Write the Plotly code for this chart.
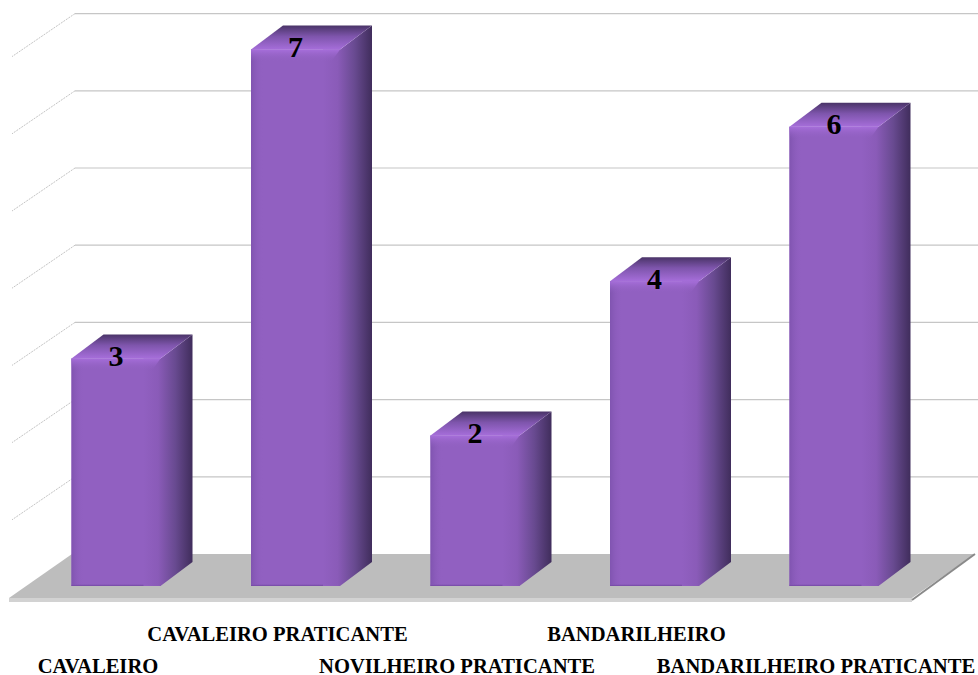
import plotly.graph_objects as go

categories = ["CAVALEIRO", "CAVALEIRO PRATICANTE", "NOVILHEIRO PRATICANTE", "BANDARILHEIRO", "BANDARILHEIRO PRATICANTE"]
values = [3, 7, 2, 4, 6]
grid_values = [0, 1, 2, 3, 4, 5, 6, 7]

# scale helpers (pixels of the 978x675 canvas per data unit)
PX_X, PX_Y = 179.5, 77.2
X0_PX, Y0_PX = 116, 590
PLOT_H = 615
x_range = [-X0_PX / PX_X, (978 - X0_PX) / PX_X]
y_range = [(Y0_PX - PLOT_H) / PX_Y, Y0_PX / PX_Y]

# 3D look, in data units
BAR_W = 89 / PX_X
BAR_BASE = 4 / PX_Y
DX, DY = 32 / PX_X, 24 / PX_Y
WALL_DX, WALL_DY = 63 / PX_X, 43 / PX_Y
WALL_Y0 = 36 / PX_Y
TICK_SHIFT = -18 / PX_X
SHADE = 17 / PX_X
BEVEL = 12 / PX_Y

FRONT = "#9160C1"
x_idx = list(range(len(values)))
fig = go.Figure()

# front faces
fig.add_trace(go.Bar(x=x_idx, y=[v - BAR_BASE for v in values], base=BAR_BASE, width=BAR_W,
                     marker=dict(color=FRONT, line=dict(width=0)), hoverinfo="skip"))

for i, v in zip(x_idx, values):
    l, r = i - BAR_W / 2, i + BAR_W / 2
    # left edge shading
    fig.add_trace(go.Scatter(x=[l, l + 0.07, l + 0.07, l, l], y=[BAR_BASE, BAR_BASE, v, v, BAR_BASE],
                             mode="none", fill="toself", hoverinfo="skip",
                             fillgradient=dict(type="horizontal",
                                               colorscale=[[0, "rgba(128,84,176,1)"], [1, "rgba(145,96,193,0)"]])))
    # bottom edge
    fig.add_trace(go.Scatter(x=[l, r, r, l, l], y=[BAR_BASE, BAR_BASE, BAR_BASE + 0.035, BAR_BASE + 0.035, BAR_BASE],
                             mode="none", fill="toself", hoverinfo="skip",
                             fillgradient=dict(type="vertical",
                                               colorscale=[[0, "rgba(112,70,160,1)"], [1, "rgba(145,96,193,0)"]])))
    # side face
    fig.add_trace(go.Scatter(x=[r - SHADE, r, r + DX, r + DX, r, r - SHADE, r - SHADE],
                             y=[v, v, v + DY, BAR_BASE + DY, BAR_BASE, BAR_BASE, v],
                             mode="none", fill="toself", hoverinfo="skip",
                             fillgradient=dict(type="horizontal",
                                               colorscale=[[0, "#9160C1"], [0.3, "#8A5BB8"], [0.65, "#684A90"], [1, "#402D5C"]])))
    # top bevel on the front
    fig.add_trace(go.Scatter(x=[l, r, r - SHADE / 2, l, l], y=[v, v, v - BEVEL, v - BEVEL, v],
                             mode="none", fill="toself", hoverinfo="skip",
                             fillgradient=dict(type="vertical",
                                               colorscale=[[0, "rgba(145,96,193,0)"], [1, "rgba(166,110,218,1)"]])))
    # top face
    fig.add_trace(go.Scatter(x=[l, l + DX, r + DX, r, l], y=[v, v + DY, v + DY, v, v],
                             mode="none", fill="toself", hoverinfo="skip",
                             fillgradient=dict(type="vertical",
                                               colorscale=[[0, "#A66EDA"], [0.55, "#7E55AC"], [1, "#4A3468"]])))

# data labels
fig.add_trace(go.Scatter(x=x_idx, y=values, mode="text", text=[str(v) for v in values],
                         textposition="middle center", hoverinfo="skip",
                         textfont=dict(family="Liberation Serif", size=30, color="#000000", weight="bold")))

# floor + walls, under the traces
back_x0 = x_range[0] + 72 / PX_X
back_x1 = x_range[0] + 975 / PX_X
floor_y_back = WALL_Y0
floor_y_front = (Y0_PX - 598) / PX_Y
shapes = []
shapes.append(dict(type="path", layer="below", xref="x", yref="y", line=dict(width=0), fillcolor="#BDBDBD",
                   path=f"M {back_x0 - WALL_DX},{floor_y_front} L {back_x0},{floor_y_back} L {back_x1},{floor_y_back} "
                        f"L {back_x1 - WALL_DX},{floor_y_front} Z"))
shapes.append(dict(type="rect", layer="below", xref="x", yref="y", line=dict(width=0), fillcolor="#D2D2D2",
                   x0=back_x0 - WALL_DX, x1=back_x1 - WALL_DX, y0=floor_y_front, y1=floor_y_front - 4 / PX_Y))
shapes.append(dict(type="line", layer="below", xref="x", yref="y", line=dict(width=2, color="#8A8A8A"),
                   x0=back_x1 - WALL_DX, y0=floor_y_front - 2 / PX_Y, x1=back_x1, y1=floor_y_back))
for g in grid_values:
    y_b = WALL_Y0 + g
    if g > 0:
        shapes.append(dict(type="line", layer="below", xref="x", yref="y", line=dict(width=1.2, color="#C6C6C6"),
                           x0=back_x0 + 3 / PX_X, x1=x_range[1], y0=y_b, y1=y_b))
        shapes.append(dict(type="line", layer="below", xref="x", yref="y",
                           line=dict(width=1, color="#C4C4C4", dash="2px,1px"),
                           x0=back_x0 + 3 / PX_X, y0=y_b, x1=back_x0 + 3 / PX_X - WALL_DX, y1=y_b - WALL_DY))

row_labels = [
    f'<span style="font-size:20.6px">{"<br>" if i % 2 == 0 else ""}{c}</span>' for i, c in enumerate(categories)
]

fig.update_layout(
    width=978, height=675, margin=dict(l=0, r=0, t=0, b=675 - PLOT_H),
    paper_bgcolor="white", plot_bgcolor="white", showlegend=False, shapes=shapes,
    xaxis=dict(range=x_range, showgrid=False, zeroline=False, showline=False, ticks="", automargin=False,
               tickmode="array", tickvals=[i + TICK_SHIFT for i in x_idx], ticktext=row_labels, tickangle=0,
               ticklabeloverflow="allow",
               tickfont=dict(family="Liberation Serif", size=24.6, color="#000000", weight="bold")),
    yaxis=dict(range=y_range, showgrid=False, zeroline=False, showline=False, showticklabels=False, ticks="",
               automargin=False),
)

fig.write_html("out.html", post_script="document.body.style.margin='0';",
               config=dict(displayModeBar=False))
